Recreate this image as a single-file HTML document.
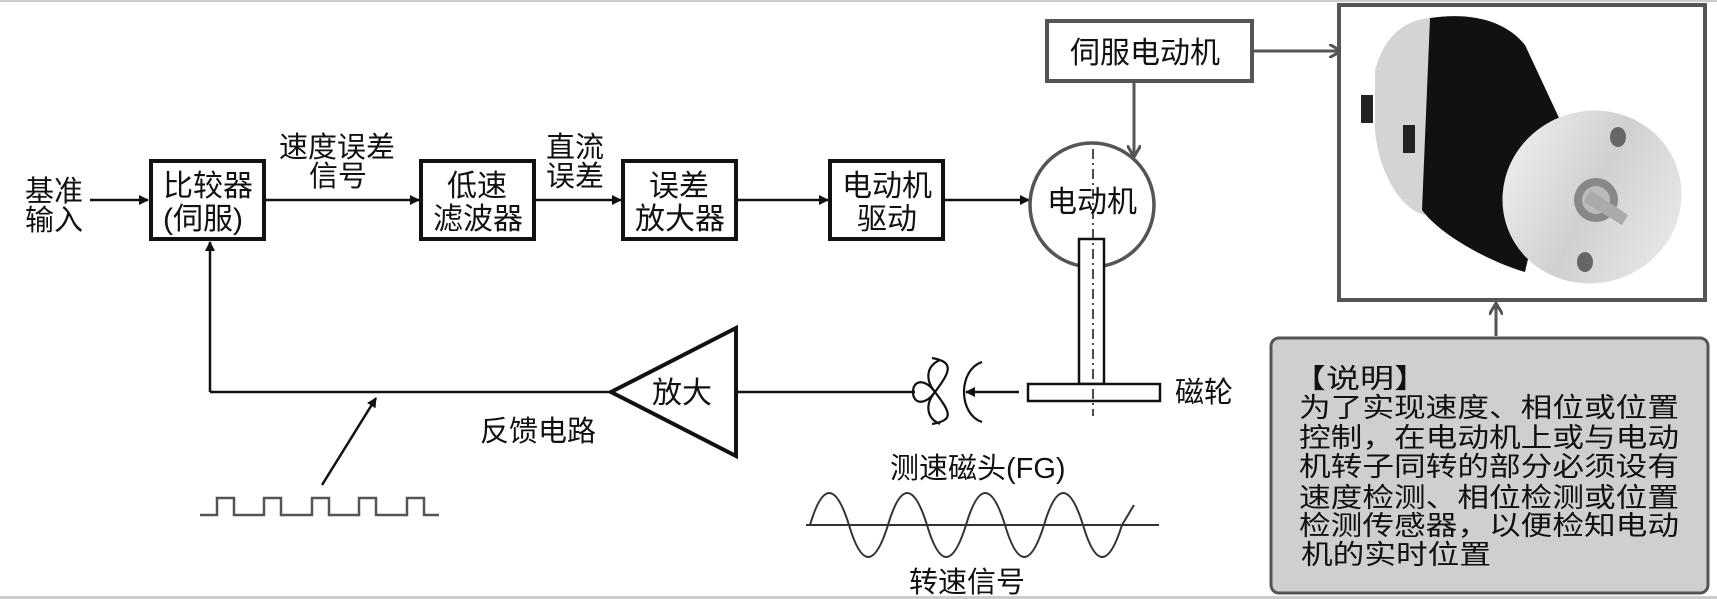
<!DOCTYPE html>
<html><head><meta charset="utf-8"><style>
html,body{margin:0;padding:0;background:#fff;}
svg{display:block;}
text{font-family:"Liberation Sans","Noto Sans CJK SC","WenQuanYi Zen Hei",sans-serif;fill:#111;}
</style></head><body>
<svg width="1717" height="599" viewBox="0 0 1717 599" xmlns="http://www.w3.org/2000/svg">
<defs>
<marker id="a" markerWidth="10" markerHeight="10" refX="9" refY="5" orient="auto" markerUnits="userSpaceOnUse"><path d="M0,0 L10,5 L0,10 z" fill="#111"/></marker>
<marker id="g" markerWidth="14" markerHeight="14" refX="12" refY="7" orient="auto" markerUnits="userSpaceOnUse"><path d="M0,0 L12,7 L0,14" fill="none" stroke="#555" stroke-width="3"/></marker>
<linearGradient id="sil" x1="0" y1="0" x2="1" y2="1"><stop offset="0" stop-color="#f4f4f4"/><stop offset="0.5" stop-color="#d0d0d0"/><stop offset="1" stop-color="#eee"/></linearGradient>
</defs>
<rect x="0" y="0" width="1717" height="2" fill="#ccc"/>
<rect x="0" y="596" width="1717" height="3" fill="#ccc"/>

<text x="25" y="201" font-size="29">基准</text>
<text x="25" y="230" font-size="29">输入</text>
<line x1="90" y1="200" x2="148" y2="200" stroke="#111" stroke-width="2.5" marker-end="url(#a)"/>

<g fill="none" stroke="#111" stroke-width="4">
<rect x="151" y="161" width="113" height="78"/>
<rect x="421" y="161" width="113" height="78"/>
<rect x="623" y="161" width="113" height="78"/>
<rect x="830" y="161" width="113" height="78"/>
</g>
<g font-size="30">
<text x="163" y="196">比较器</text>
<text x="163" y="229">(伺服)</text>
<text x="447" y="196">低速</text>
<text x="433" y="229">滤波器</text>
<text x="649" y="196">误差</text>
<text x="635" y="229">放大器</text>
<text x="842" y="196">电动机</text>
<text x="857" y="229">驱动</text>
</g>
<text x="279" y="157" font-size="29">速度误差</text>
<text x="309" y="186" font-size="29">信号</text>
<text x="546" y="157" font-size="29">直流</text>
<text x="546" y="186" font-size="29">误差</text>

<g stroke="#111" stroke-width="2.5" marker-end="url(#a)">
<line x1="264" y1="200" x2="419" y2="200"/>
<line x1="534" y1="200" x2="621" y2="200"/>
<line x1="736" y1="200" x2="828" y2="200"/>
<line x1="943" y1="200" x2="1029" y2="200"/>
<line x1="210" y1="392" x2="210" y2="242"/>
<line x1="322" y1="485" x2="376" y2="398"/>
</g>
<polyline points="210,392 611,392" fill="none" stroke="#111" stroke-width="2.5"/>
<polygon points="611,392 736,328 736,456" fill="#fff" stroke="#111" stroke-width="4"/>
<text x="652" y="403" font-size="30">放大</text>
<line x1="736" y1="392" x2="915" y2="392" stroke="#111" stroke-width="2.5"/>
<text x="480" y="441" font-size="29">反馈电路</text>

<polyline points="200,515 217,515 217,498 234,498 234,515 264,515 264,498 281,498 281,515 312,515 312,498 329,498 329,515 359,515 359,498 376,498 376,515 407,515 407,498 424,498 424,515 439,515" fill="none" stroke="#555" stroke-width="2.5"/>

<rect x="1047" y="21" width="205" height="60" fill="#fff" stroke="#555" stroke-width="4"/>
<text x="1070" y="63" font-size="30">伺服电动机</text>
<line x1="1252" y1="51" x2="1341" y2="51" stroke="#555" stroke-width="3" marker-end="url(#g)"/>
<line x1="1134" y1="81" x2="1134" y2="157" stroke="#555" stroke-width="3" marker-end="url(#g)"/>

<circle cx="1092" cy="205" r="62" fill="#fff" stroke="#555" stroke-width="3.5"/>
<text x="1047" y="212" font-size="30">电动机</text>
<rect x="1079" y="239" width="25" height="145" fill="#fff" stroke="#111" stroke-width="2.5"/>
<rect x="1028" y="384" width="132" height="17" fill="#fff" stroke="#111" stroke-width="2.5"/>
<line x1="1093" y1="149" x2="1093" y2="416" stroke="#111" stroke-width="1.5" stroke-dasharray="10,4,2,4"/>
<text x="1175" y="402" font-size="29">磁轮</text>
<line x1="1019" y1="392" x2="966" y2="392" stroke="#111" stroke-width="2.5" marker-end="url(#a)"/>
<g fill="none" stroke="#111" stroke-width="2.2">
<path d="M935,392 C925,378 913,380 913,392 C913,404 925,406 935,392 C950,372 955,362 932,358"/>
<path d="M935,392 C950,412 955,420 932,424"/>
<path d="M935,392 C925,380 926,366 940,360"/>
<path d="M935,392 C925,404 926,418 940,424"/>
<path d="M982,362 C958,370 958,414 982,422"/>
</g>
<text x="890" y="478" font-size="29">测速磁头(FG)</text>
<line x1="806" y1="525" x2="1159" y2="525" stroke="#333" stroke-width="2"/>
<path d="M810,525 Q829,461 849,525 Q868,589 888,525 Q907,461 927,525 Q946,589 966,525 Q985,461 1005,525 Q1024,589 1044,525 Q1063,461 1083,525 Q1102,589 1122,525 L1134,505" fill="none" stroke="#333" stroke-width="2"/>
<text x="909" y="592" font-size="29">转速信号</text>

<rect x="1339" y="5" width="366" height="295" fill="#fff" stroke="#555" stroke-width="4"/>
<g>
<path d="M1375,70 C1385,35 1405,20 1430,18 L1460,25 L1425,215 C1400,210 1378,170 1375,130 z" fill="#d4d4d4"/>
<path d="M1430,18 C1470,12 1505,20 1525,45 L1560,120 L1525,272 C1490,262 1440,235 1422,210 z" fill="#111"/>
<ellipse cx="1592" cy="197" rx="90" ry="86" transform="rotate(-20 1592 197)" fill="url(#sil)"/>
<circle cx="1596" cy="200" r="22" fill="#888"/>
<circle cx="1596" cy="200" r="14" fill="#bbb"/>
<path d="M1590,190 L1628,215 L1622,225 L1584,202 z" fill="#aaa"/>
<ellipse cx="1618" cy="137" rx="8" ry="10" fill="#666"/>
<ellipse cx="1585" cy="262" rx="8" ry="10" fill="#666"/>
<rect x="1361" y="95" width="12" height="28" fill="#222"/>
<rect x="1403" y="125" width="12" height="28" fill="#222"/>
</g>
<line x1="1496" y1="336" x2="1496" y2="303" stroke="#555" stroke-width="3" marker-end="url(#g)"/>

<rect x="1271" y="338" width="437" height="255" rx="8" fill="#cfcfcf" stroke="#555" stroke-width="3"/>
<g font-size="27">
<text x="1292" y="388" textLength="136" lengthAdjust="spacingAndGlyphs">【说明】</text>
<text x="1299" y="417" textLength="380" lengthAdjust="spacingAndGlyphs">为了实现速度、相位或位置</text>
<text x="1299" y="447" textLength="380" lengthAdjust="spacingAndGlyphs">控制，在电动机上或与电动</text>
<text x="1299" y="476" textLength="380" lengthAdjust="spacingAndGlyphs">机转子同转的部分必须设有</text>
<text x="1299" y="507" textLength="380" lengthAdjust="spacingAndGlyphs">速度检测、相位检测或位置</text>
<text x="1299" y="535" textLength="380" lengthAdjust="spacingAndGlyphs">检测传感器，以便检知电动</text>
<text x="1301" y="564" textLength="190" lengthAdjust="spacingAndGlyphs">机的实时位置</text>
</g>
</svg>
</body></html>
